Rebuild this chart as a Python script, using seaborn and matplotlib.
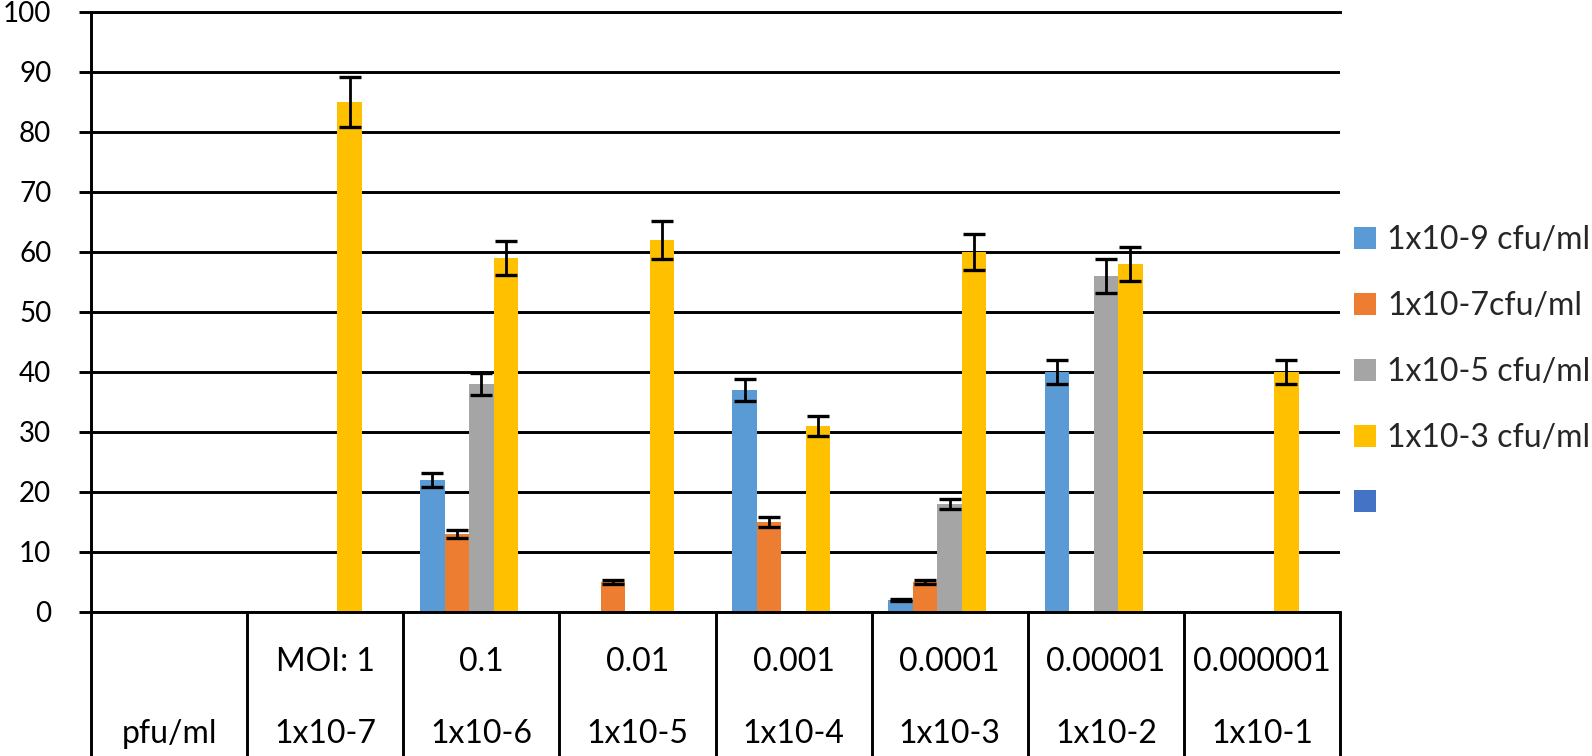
import numpy as np
import pandas as pd
import matplotlib
matplotlib.use("Agg")
import matplotlib.pyplot as plt
import seaborn as sns
from matplotlib.patches import Patch

# category labels (two rows under the axis)
moi_labels = ["", "MOI: 1", "0.1", "0.01", "0.001", "0.0001", "0.00001", "0.000001"]
pfu_labels = ["pfu/ml", "1x10-7", "1x10-6", "1x10-5", "1x10-4", "1x10-3", "1x10-2", "1x10-1"]

series = ["1x10-9 cfu/ml", "1x10-7cfu/ml", "1x10-5 cfu/ml", "1x10-3 cfu/ml", ""]
colors = ["#5B9BD5", "#ED7D31", "#A5A5A5", "#FFC000", "#4472C4"]

# values (None = no bar)
s9 = [None, None, 22, None, 37, 2, 40, None]
s7 = [None, None, 13, 5, 15, 5, None, None]
s5 = [None, None, 38, None, None, 18, 56, None]
s3 = [None, 85, 59, 62, 31, 60, 58, 40]
s_blank = [None] * 8

# error bar half-lengths
e9 = [None, None, 1.1, None, 1.8, 0.1, 2.0, None]
e7 = [None, None, 0.6, 0.3, 0.8, 0.3, None, None]
e5 = [None, None, 1.9, None, None, 0.9, 2.8, None]
e3 = [None, 4.2, 2.9, 3.1, 1.6, 3.0, 2.9, 2.0]
e_blank = [None] * 8

vals = [s9, s7, s5, s3, s_blank]
errs = [e9, e7, e5, e3, e_blank]

rows = []
for name, v, e in zip(series, vals, errs):
    for cat, val, err in zip(pfu_labels, v, e):
        rows.append({"cat": cat, "series": name, "value": val, "err": err})
df = pd.DataFrame(rows)
df["value"] = df["value"].astype(float)
df["err"] = df["err"].astype(float)

sns.set_theme(style="white")
plt.rcParams["font.family"] = ["Lato", "DejaVu Sans"]

fig = plt.figure(figsize=(15.92, 7.56), dpi=100)
ax = fig.add_axes([91 / 1592, 1 - 612 / 756, (1340 - 91) / 1592, 600 / 756])

bar_w = 0.785
sns.barplot(data=df, x="cat", y="value", hue="series", order=pfu_labels,
            hue_order=series, palette=dict(zip(series, colors)),
            saturation=1, width=bar_w, errorbar=None, legend=False,
            linewidth=0, ax=ax)

# error bars at the bar centres
n = len(series)
for patch in ax.patches:
    h = patch.get_height()
    if not np.isfinite(h) or h == 0:
        continue
    cx = patch.get_x() + patch.get_width() / 2
    ci = int(round(cx))
    si = int(round((cx - ci) / (bar_w / n) + (n - 1) / 2))
    err = df[(df["cat"] == pfu_labels[ci]) & (df["series"] == series[si])]["err"].iloc[0]
    if np.isfinite(err):
        ax.errorbar(cx, h, yerr=err, fmt="none", ecolor="black",
                    elinewidth=2, capsize=8, capthick=2.4, zorder=5)

ax.set_ylim(0, 100)
ax.set_xlim(-0.5, len(pfu_labels) - 0.5)
ax.set_yticks(np.arange(0, 101, 10))
ax.set_axisbelow(True)
ax.yaxis.grid(True, color="black", linewidth=2.1)
ax.xaxis.grid(False)

for side in ["left", "bottom", "top"]:
    ax.spines[side].set_color("black")
    ax.spines[side].set_linewidth(2.1)
ax.spines["right"].set_visible(False)

ax.tick_params(axis="y", left=True, direction="out", length=8.6, width=2.1,
               color="black", labelsize=20, pad=20, labelcolor="black")

# category dividers drawn as long outward ticks
ax.set_xticks(np.arange(-0.5, len(pfu_labels), 1))
ax.tick_params(axis="x", bottom=True, direction="out", length=110, width=2.1,
               color="black", labelbottom=False)
ax.set_xlabel("")
ax.set_ylabel("")

for i, (m, p) in enumerate(zip(moi_labels, pfu_labels)):
    ax.text(i, -0.098, m, transform=ax.get_xaxis_transform(), ha="center",
            va="baseline", fontsize=23, color="black")
    ax.text(i, -0.218, p, transform=ax.get_xaxis_transform(), ha="center",
            va="baseline", fontsize=23, color="black")

handles = [Patch(facecolor=c, edgecolor="none", label=s) for s, c in zip(series, colors)]
ax.legend(handles=handles, loc="center left",
          bbox_to_anchor=(1354 / 1592, 1 - 372 / 756), bbox_transform=fig.transFigure,
          frameon=False, fontsize=23, handlelength=0.68, handleheight=0.68,
          handletextpad=0.35, labelspacing=1.12, borderpad=0, borderaxespad=0)

fig.savefig("out.png", dpi=100)
